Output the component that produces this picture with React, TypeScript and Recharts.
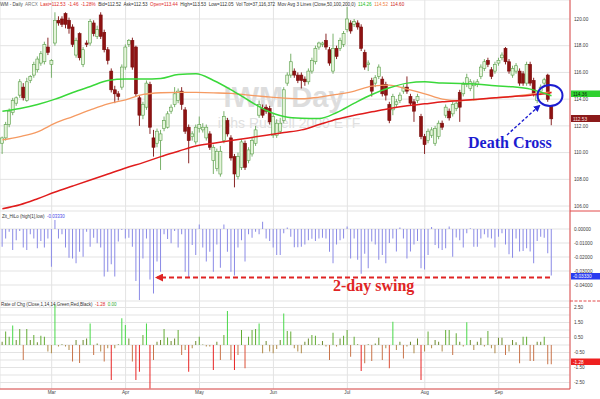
import React from "react";
import { ComposedChart, Bar, Line, XAxis, YAxis, CartesianGrid, Cell } from "recharts";

const SANS = "'Liberation Sans', Arial, sans-serif";
const SERIF = "'Liberation Serif', 'Times New Roman', serif";

// IWM daily, Feb 10 - Sep 23 2014 (one entry per trading day)
const PRICE_OPEN = [
  110.7, 111.1, 112.1, 113.0, 113.7, 114.3, 114.9, 113.9, 115.4, 115.8,
  116.2, 116.7, 116.8, 117.9, 116.6, 118.2, 119.9, 120.0, 120.4, 119.9,
  119.4, 117.3, 118.9, 116.6, 118.2, 118.2, 119.7, 118.7, 120.3, 119.0,
  117.7, 116.1, 114.7, 114.4, 114.9, 116.4, 118.1, 118.4, 117.9, 114.1,
  112.8, 113.4, 115.1, 111.1, 110.7, 110.9, 111.8, 111.9, 113.1, 113.6,
  113.9, 114.6, 113.2, 111.9, 111.2, 110.8, 111.8, 111.7, 111.1, 111.4,
  109.4, 108.8, 108.4, 110.9, 112.4, 111.1, 109.7, 108.2, 108.9, 110.7,
  109.4, 109.9, 110.7, 112.8, 113.3, 113.4, 113.3, 111.3, 111.3, 111.6,
  112.4, 115.2, 115.8, 116.1, 115.8, 115.8, 115.5, 115.3, 116.1, 116.8,
  117.9, 118.1, 118.4, 117.7, 116.1, 117.8, 117.8, 118.1, 119.2, 119.7,
  119.6, 119.7, 119.4, 117.5, 116.6, 115.4, 115.2, 115.7, 115.5, 115.1,
  113.6, 113.2, 113.6, 113.9, 114.6, 114.9, 114.2, 113.8, 113.9, 112.7,
  111.2, 110.9, 111.3, 110.7, 111.2, 112.2, 112.8, 113.1, 112.9, 113.3,
  114.5, 114.4, 115.1, 114.8, 115.0, 115.1, 115.7, 116.3, 116.9, 116.2,
  116.1, 116.7, 117.1, 117.8, 116.8, 115.8, 116.1, 116.1, 115.9, 115.2,
  116.6, 115.4, 113.9, 114.6, 115.2, 115.8, 113.44,
];
const PRICE_HIGH = [
  111.2, 112.3, 113.3, 114.1, 114.2, 115.5, 115.2, 115.6, 115.8, 116.8,
  117.2, 117.6, 118.3, 118.6, 117.0, 120.5, 120.2, 120.2, 120.5, 120.1,
  119.6, 118.6, 119.0, 117.9, 118.4, 120.0, 119.9, 119.5, 120.5, 119.2,
  117.9, 116.3, 115.0, 114.6, 116.6, 118.1, 118.5, 118.6, 118.0, 114.3,
  113.8, 115.4, 115.3, 111.7, 111.8, 111.7, 112.7, 113.1, 113.6, 114.9,
  114.8, 114.9, 113.4, 112.1, 111.6, 112.1, 112.7, 112.2, 112.1, 111.6,
  110.6, 110.3, 110.5, 113.1, 112.6, 111.3, 109.9, 110.0, 111.0, 110.9,
  110.4, 111.1, 112.0, 113.9, 113.6, 113.6, 113.5, 112.9, 112.5, 112.6,
  114.9, 116.0, 117.4, 116.3, 116.0, 116.0, 115.7, 116.3, 117.1, 118.0,
  118.3, 118.3, 118.9, 117.9, 118.9, 118.0, 118.6, 119.1, 120.9, 119.9,
  120.0, 119.9, 119.6, 117.7, 116.9, 115.6, 115.8, 116.6, 115.7, 115.3,
  113.8, 114.4, 114.0, 114.5, 115.1, 115.7, 114.4, 114.0, 114.4, 112.9,
  111.4, 111.8, 111.9, 112.0, 112.4, 112.4, 113.6, 113.3, 113.8, 113.9,
  114.7, 115.3, 115.9, 115.5, 115.4, 115.5, 116.6, 117.0, 117.1, 116.4,
  116.8, 117.1, 117.5, 117.9, 117.0, 116.5, 116.7, 116.3, 116.1, 116.8,
  116.8, 115.6, 114.6, 115.1, 115.6, 115.9, 113.53,
];
const PRICE_LOW = [
  109.9, 110.9, 111.9, 112.8, 113.5, 114.1, 113.9, 113.8, 115.2, 115.6,
  116.0, 116.5, 116.6, 117.3, 115.6, 118.0, 119.5, 119.4, 119.3, 118.9,
  117.9, 117.1, 116.9, 116.4, 117.9, 118.0, 118.7, 118.5, 118.5, 117.5,
  116.6, 114.5, 113.7, 113.9, 114.7, 116.2, 117.9, 116.2, 114.2, 112.0,
  112.5, 113.2, 111.4, 109.7, 110.4, 108.7, 111.6, 111.8, 112.9, 113.4,
  113.7, 113.2, 111.4, 109.2, 110.9, 110.6, 111.5, 111.5, 110.9, 110.2,
  108.4, 108.6, 108.2, 110.7, 111.2, 109.4, 107.4, 108.0, 108.7, 108.7,
  109.2, 109.7, 110.5, 112.6, 112.6, 112.9, 112.1, 111.1, 111.1, 111.4,
  112.2, 115.0, 115.6, 115.6, 115.2, 114.8, 115.0, 115.1, 115.9, 116.6,
  117.7, 117.9, 117.7, 116.5, 115.9, 117.0, 117.6, 117.9, 119.0, 118.9,
  119.4, 119.2, 117.6, 116.2, 116.1, 114.2, 114.9, 115.5, 114.2, 113.9,
  112.2, 112.8, 113.4, 113.7, 114.4, 114.4, 113.5, 112.3, 113.7, 111.0,
  109.9, 110.7, 111.1, 110.5, 111.0, 111.7, 112.6, 112.4, 112.7, 113.1,
  112.3, 114.2, 114.9, 114.6, 113.9, 114.9, 115.5, 116.1, 116.4, 115.5,
  115.9, 116.5, 116.9, 116.6, 115.9, 115.6, 115.9, 115.0, 115.0, 115.0,
  115.0, 114.2, 113.7, 114.3, 115.0, 113.8, 112.05,
];
const PRICE_CLOSE = [
  111.1, 112.1, 113.1, 113.9, 114.1, 115.3, 114.1, 115.3, 115.7, 116.6,
  117.0, 117.4, 118.1, 117.5, 116.9, 119.9, 119.7, 119.6, 119.6, 119.3,
  118.1, 118.4, 117.1, 117.7, 118.1, 119.8, 118.9, 119.2, 118.7, 117.7,
  116.9, 114.7, 114.4, 114.2, 116.4, 117.9, 118.4, 116.4, 114.4, 112.8,
  113.6, 115.2, 111.9, 110.4, 111.6, 111.4, 112.4, 112.9, 113.4, 114.4,
  114.6, 113.6, 111.6, 110.9, 111.4, 111.9, 112.1, 111.9, 111.9, 110.4,
  110.4, 110.1, 110.1, 112.7, 111.4, 109.6, 108.4, 109.7, 110.8, 108.9,
  110.2, 110.9, 111.7, 113.6, 112.8, 113.1, 112.3, 112.7, 112.2, 112.2,
  114.7, 115.8, 116.8, 115.8, 115.4, 115.4, 115.3, 116.1, 116.9, 117.8,
  118.2, 118.2, 117.9, 116.7, 117.8, 117.2, 118.4, 118.9, 120.0, 119.1,
  119.8, 119.4, 117.8, 116.4, 116.7, 114.6, 115.6, 116.4, 114.4, 114.3,
  112.4, 114.2, 113.8, 114.3, 114.9, 114.6, 113.7, 113.1, 114.2, 111.2,
  110.6, 111.6, 111.7, 111.8, 112.2, 111.9, 113.4, 112.6, 113.6, 113.7,
  113.4, 115.1, 115.6, 115.3, 115.2, 115.3, 116.4, 116.8, 116.6, 115.7,
  116.6, 116.9, 117.3, 116.8, 116.1, 116.3, 116.5, 115.2, 115.2, 116.6,
  115.2, 114.4, 114.4, 114.9, 115.45, 113.99, 112.53,
];

// moving averages read every 5 sessions: [session, value]
const MA50_PTS: [number, number][] = [
  [0, 113.1], [5, 113.3], [10, 113.6], [15, 114.0], [20, 114.5], [25, 114.95], [30, 115.4],
  [35, 115.5], [40, 115.5], [45, 115.55], [50, 115.85], [55, 115.9], [60, 115.4], [65, 114.7],
  [70, 113.9], [75, 113.15], [80, 112.7], [85, 112.57], [90, 112.55], [95, 113.0], [100, 113.7],
  [105, 114.35], [110, 114.85], [115, 115.2], [120, 115.3], [125, 115.2], [130, 115.18],
  [135, 115.12], [140, 115.0], [145, 114.92], [150, 114.75], [155, 114.35], [156, 114.26],
];
const MA100_PTS: [number, number][] = [
  [0, 110.95], [5, 111.2], [10, 111.55], [15, 112.2], [20, 112.7], [25, 113.2], [30, 113.65],
  [35, 113.95], [40, 114.35], [45, 114.48], [50, 114.51], [55, 114.5], [60, 114.47], [65, 114.43],
  [70, 114.3], [75, 114.18], [80, 114.08], [85, 114.03], [90, 114.15], [95, 114.35], [100, 114.6],
  [105, 114.97], [110, 115.05], [115, 114.75], [120, 114.4], [125, 114.0], [130, 113.88],
  [135, 113.97], [140, 114.1], [145, 114.2], [150, 114.37], [155, 114.5], [156, 114.52],
];
const MA200_PTS: [number, number][] = [
  [0, 105.8], [5, 106.1], [10, 106.55], [15, 107.05], [20, 107.5], [25, 107.95], [30, 108.4],
  [35, 108.85], [40, 109.25], [45, 109.7], [50, 110.1], [55, 110.5], [60, 110.7], [65, 110.9],
  [70, 111.1], [75, 111.3], [80, 111.5], [85, 111.7], [90, 112.1], [95, 112.5], [100, 112.8],
  [105, 113.05], [110, 113.3], [115, 113.5], [120, 113.65], [125, 113.8], [130, 113.9],
  [135, 114.0], [140, 114.1], [145, 114.2], [150, 114.3], [155, 114.45], [156, 114.5],
];

const ZIT_HILO = [
  -0.0126, -0.0067, -0.002, -0.015, -0.008, -0.0014, -0.0133, -0.015, -0.0038, -0.0067,
  -0.0138, -0.0086, -0.0133, -0.0067, -0.0269, 0.0064, -0.0067, -0.0038, -0.0133, -0.0205,
  -0.021, -0.0245, -0.0162, -0.0198, -0.002, -0.0126, -0.0062, -0.0102, -0.0133, -0.034,
  -0.0305, -0.0252, -0.034, -0.009, -0.0007, -0.0067, -0.0062, -0.0126, -0.0371, -0.0507,
  -0.021, -0.0067, -0.036, -0.046, -0.0233, -0.0305, -0.0038, -0.0071, -0.0102, -0.0014,
  -0.0133, -0.0038, -0.0305, -0.0348, -0.0114, -0.0186, 0.0033, -0.0133, -0.0233, -0.0162,
  -0.0305, -0.011, -0.0276, 0.0033, -0.0162, -0.0305, -0.0333, -0.0133, -0.008, -0.0233,
  -0.0038, -0.0062, -0.002, -0.0038, 0.0052, -0.0067, -0.0086, -0.0133, -0.0186, -0.0186,
  -0.003, 0.001, -0.0055, -0.013, -0.013, -0.0126, -0.011, -0.008, -0.007, -0.0086,
  -0.0067, -0.0062, -0.0067, -0.0162, -0.0245, -0.011, -0.008, -0.0067, 0.0017, -0.021,
  -0.0067, -0.022, -0.032, -0.0176, -0.028, -0.009, -0.011, -0.022, -0.0186, -0.0245,
  -0.01, -0.0067, -0.016, 0.001, -0.0067, -0.021, -0.016, -0.011, -0.0086, -0.028,
  -0.029, -0.0186, 0.0014, -0.0114, -0.0138, -0.015, -0.0138, 0.0017, -0.0198, -0.006,
  -0.008, -0.0133, -0.003, 0.0005, -0.0126, -0.0126, -0.0067, -0.0038, -0.006, -0.0067,
  -0.0133, -0.0055, -0.003, -0.011, -0.018, -0.0205, -0.0067, -0.016, -0.0157, -0.0138,
  -0.016, -0.0245, -0.0086, -0.0055, -0.0062, -0.0174, -0.0333,
];

const RATE_OF_CHG = [
  0.22, 0.9, 0.55, 1.3, 0.33, 1.07, -1.0, 1.07, 0.33, 0.67,
  0.18, 0.62, 0.55, -0.44, -0.55, 2.7, -0.1, 0.05, -0.1, -0.33,
  -1.1, 0.33, -1.2, 0.33, 0.44, 1.44, -0.67, 0.1, -0.44, -1.1,
  -0.22, -2.33, -0.22, 0.05, 1.78, 1.33, 0.44, -1.1, -2.33, -1.78,
  0.67, 1.44, -2.9, -1.0, 0.22, 0.33, 1.07, 0.5, 0.27, 0.44,
  1.0, -0.67, -0.33, -1.78, -0.22, 0.27, 0.55, 0.03, -0.1, -0.1,
  -1.67, 0.22, -1.0, 0.67, 2.27, -1.0, -1.67, -0.67, 1.0, -1.55,
  0.55, 1.0, 1.07, 1.44, -0.55, 0.27, -0.44, -0.55, -0.27, 0.33,
  2.1, 0.93, 0.9, -0.22, -0.44, -0.55, 0.22, 0.44, 0.67, 0.62,
  0.05, 0.27, -0.1, -1.0, 0.82, -0.1, 0.44, 0.62, 1.0, -0.78,
  0.55, 0.05, -1.73, -1.22, 0.05, -1.07, 0.1, 0.49, -1.0, -0.22,
  -1.55, 1.55, -0.33, 0.22, -0.9, -0.1, 0.22, -0.55, 0.44, -2.33,
  -0.44, 0.9, -0.22, 0.33, 0.22, -0.44, 1.0, 1.0, -0.67, 0.78,
  0.22, -0.1, 1.51, 0.33, -0.33, 0.22, 0.49, -0.1, 0.93, -0.22,
  -0.55, 0.49, 0.49, -0.67, -0.44, 0.33, 0.18, -1.22, 0.55, 0.55,
  -1.07, -1.07, 0.22, 0.22, 0.55, -1.29, -1.28,
];

const MONTH_STARTS = [14, 35, 56, 77, 98, 120, 141];
const MONTH_LABELS = ["Mar", "Apr", "May", "Jun", "Jul", "Aug", "Sep"];
const PRICE_TICKS = [106, 108, 110, 112, 114, 116, 118, 120];
const ZIT_TICKS = [0, -0.01, -0.02, -0.03, -0.04];
const ROC_TICKS = [2.5, 2, 1.5, 1, 0.5, 0, -0.5, -1, -1.5, -2, -2.5];

const m50 = new Map(MA50_PTS);
const m100 = new Map(MA100_PTS);
const m200 = new Map(MA200_PTS);

const data = PRICE_OPEN.map((open, j) => ({
  j,
  open,
  high: PRICE_HIGH[j],
  low: PRICE_LOW[j],
  close: PRICE_CLOSE[j],
  hl: [PRICE_LOW[j], PRICE_HIGH[j]],
  ma50: m50.get(j) ?? null,
  ma100: m100.get(j) ?? null,
  ma200: m200.get(j) ?? null,
  zit: ZIT_HILO[j],
  roc: RATE_OF_CHG[j],
}));

const X_DOMAIN: [number, number] = [-0.68, 161.25];

function Candle(props: any) {
  const { x, y, width, height, payload } = props;
  if (!payload || !height) return null;
  const { open, close, high, low } = payload;
  const ppu = height / (high - low);
  const cx = x + width / 2;
  const yO = y + (high - open) * ppu;
  const yC = y + (high - close) * ppu;
  const up = close >= open;
  const top = Math.min(yO, yC);
  const h = Math.max(Math.abs(yO - yC), 0.8);
  return (
    <g>
      <line x1={cx} x2={cx} y1={y} y2={y + height} stroke={up ? "#6aa85a" : "#7a0c0c"} strokeWidth={0.9} />
      <rect
        x={x}
        y={top}
        width={width}
        height={h}
        fill={up ? "#e4f4da" : "#8e1212"}
        stroke={up ? "#5a9e4a" : "#7a0c0c"}
        strokeWidth={0.6}
      />
    </g>
  );
}

function rocColor(v: number) {
  if (v >= 1.2) return "#48d848";
  if (v >= 0.5) return "#62ac34";
  if (v >= 0) return "#6c8c30";
  if (v > -0.6) return "#b08a4a";
  if (v > -1.3) return "#c8744a";
  if (v > -1.6) return "#dc5038";
  return "#e82424";
}

export default function App() {
  const margin = { top: 0, right: 0, bottom: 0, left: 0 };
  const tick = { fontSize: 4.7, fill: "#3a3a3a", fontFamily: SANS };
  const rightAxis = {
    orientation: "right" as const,
    width: 30,
    tickLine: false,
    tickSize: 0,
    tickMargin: 4,
    axisLine: { stroke: "#e24a4a" },
    tick,
    interval: 0 as const,
    allowDataOverflow: true,
  };

  return (
    <div style={{ position: "absolute", left: 0, top: 0, width: 600, height: 399, background: "#fff", overflow: "hidden" }}>
      {/* watermark */}
      <svg width={600} height={399} style={{ position: "absolute", left: 0, top: 0 }}>
        <text x={284} y={107} textAnchor="middle" fontSize={29} fontWeight="bold" fill="#dddddd" fontFamily={SANS}>
          IWM Day
        </text>
        <text x={289} y={128} textAnchor="middle" fontSize={14} fill="#e0e0e0" fontFamily={SANS}>
          iShs Russell 2000 ETF
        </text>
      </svg>

      {/* price panel */}
      <div style={{ position: "absolute", left: 0, top: 0 }}>
        <ComposedChart width={600} height={211} data={data} margin={margin}>
          <CartesianGrid stroke="#e3e3e3" />
          <XAxis type="number" dataKey="j" domain={X_DOMAIN} ticks={MONTH_STARTS} hide allowDataOverflow />
          <YAxis {...rightAxis} domain={[105.63, 121.42]} ticks={PRICE_TICKS} tickFormatter={(v: number) => v.toFixed(2)} />
          <Bar dataKey="hl" barSize={3} isAnimationActive={false} shape={(p: any) => <Candle {...p} />} />
          <Line dataKey="ma100" type="monotone" stroke="#f59a62" strokeWidth={1.3} dot={false} activeDot={false} connectNulls isAnimationActive={false} />
          <Line dataKey="ma200" type="monotone" stroke="#e01c1c" strokeWidth={1.5} dot={false} activeDot={false} connectNulls isAnimationActive={false} />
          <Line dataKey="ma50" type="monotone" stroke="#3ad83a" strokeWidth={1.5} dot={false} activeDot={false} connectNulls isAnimationActive={false} />
        </ComposedChart>
      </div>

      {/* Zit_HiLo panel */}
      <div style={{ position: "absolute", left: 0, top: 211 }}>
        <ComposedChart width={600} height={90} data={data} margin={margin}>
          <CartesianGrid stroke="#e3e3e3" />
          <XAxis type="number" dataKey="j" domain={X_DOMAIN} ticks={MONTH_STARTS} hide allowDataOverflow />
          <YAxis
            {...rightAxis}
            domain={[-0.05143, 0.01286]}
            ticks={ZIT_TICKS}
            tickFormatter={(v: number) => (v === 0 ? "0.00000" : v.toFixed(5))}
          />
          <Bar dataKey="zit" barSize={1} fill="#8a8ae6" isAnimationActive={false} />
        </ComposedChart>
      </div>

      {/* Rate of change panel */}
      <div style={{ position: "absolute", left: 0, top: 301 }}>
        <ComposedChart width={600} height={98} data={data} margin={margin}>
          <CartesianGrid stroke="#e3e3e3" />
          <XAxis
            type="number"
            dataKey="j"
            domain={X_DOMAIN}
            allowDataOverflow
            ticks={MONTH_STARTS}
            interval={0}
            tickFormatter={(v: number) => MONTH_LABELS[MONTH_STARTS.indexOf(v)] ?? ""}
            height={10}
            tickSize={0}
            tickMargin={2}
            tickLine={false}
            axisLine={{ stroke: "#e24a4a" }}
            tick={{ fontSize: 4.7, fill: "#444", fontFamily: SANS }}
          />
          <YAxis
            {...rightAxis}
            domain={[-2.933, 2.933]}
            ticks={ROC_TICKS}
            tickFormatter={(v: number) => (Math.round(Math.abs(v) * 2) % 2 === 1 ? v.toFixed(2) : "")}
          />
          <Bar dataKey="roc" barSize={1} isAnimationActive={false}>
            {data.map((d) => (
              <Cell key={d.j} fill={rocColor(d.roc)} />
            ))}
          </Bar>
        </ComposedChart>
      </div>

      {/* headers, value boxes and annotations */}
      <svg width={600} height={399} style={{ position: "absolute", left: 0, top: 0, pointerEvents: "none" }}>
        <defs>
          <marker id="blueHead" markerWidth="7" markerHeight="7" refX="5" refY="3.5" orient="auto" markerUnits="userSpaceOnUse">
            <path d="M0,0 L7,3.5 L0,7 z" fill="#1c1cd0" />
          </marker>
          <marker id="redHead" markerWidth="8" markerHeight="8" refX="6" refY="4" orient="auto" markerUnits="userSpaceOnUse">
            <path d="M0,0 L8,4 L0,8 z" fill="#e02424" />
          </marker>
        </defs>

        <text x={-1} y={6} fontSize={4.6} fontFamily={SANS} style={{ whiteSpace: "pre" }}>
          <tspan fill="#444">{"IWM - Daily  "}</tspan>
          <tspan fill="#777">{"ARCX  "}</tspan>
          <tspan fill="#e02828">{"Last=112.53  -1.46  -1.28%  "}</tspan>
          <tspan fill="#333">{"Bid=112.52  Ask=112.53  "}</tspan>
          <tspan fill="#e02828">{"Open=113.44  "}</tspan>
          <tspan fill="#333">{"High=113.53  Low=112.05  Vol Tot=37,116,372  Mov Avg 3 Lines (Close,50,100,200,0)  "}</tspan>
          <tspan fill="#22bb22">{"114.26  "}</tspan>
          <tspan fill="#f08040">{"114.52  "}</tspan>
          <tspan fill="#cc2020">{"114.60"}</tspan>
        </text>

        <text x={2} y={217.5} fontSize={4.5} fontFamily={SANS} style={{ whiteSpace: "pre" }}>
          <tspan fill="#333">{"Zit_HiLo (high[1],low)  "}</tspan>
          <tspan fill="#4a4ae8">{"-0.03330"}</tspan>
        </text>
        <text x={1} y={305.5} fontSize={4.5} fontFamily={SANS} style={{ whiteSpace: "pre" }}>
          <tspan fill="#333">{"Rate of Chg (Close,1,14,14,Green,Red,Black)  "}</tspan>
          <tspan fill="#e02828">{"-1.28  "}</tspan>
          <tspan fill="#2eaa2e">{"0.00"}</tspan>
        </text>

        {/* panel separators on the scale */}
        <line x1={570} x2={600} y1={211} y2={211} stroke="#e24a4a" strokeWidth={1} />
        <line x1={570} x2={600} y1={301} y2={301} stroke="#e24a4a" strokeWidth={1} strokeDasharray="3,1.5" />

        {/* value boxes (they sit over part of the scale, as in the source) */}
        <rect x={571} y={90.5} width={29} height={6.5} fill="#2fd12f" />
        <text x={573} y={95.6} fontSize={4.7} fill="#0c2a0c" fontFamily={SANS}>114.36</text>
        <rect x={571} y={115} width={29} height={7} fill="#8b1a1a" />
        <text x={573} y={120.5} fontSize={4.7} fill="#ffe0e0" fontFamily={SANS}>112.53</text>
        <rect x={571} y={273} width={29} height={6.5} fill="#2a3cf0" />
        <text x={573} y={278.2} fontSize={4.7} fill="#ffffff" fontFamily={SANS}>-0.03330</text>
        <rect x={571} y={358.5} width={29} height={6.5} fill="#ee2020" />
        <text x={573} y={363.7} fontSize={4.7} fill="#ffffff" fontFamily={SANS}>-1.28</text>

        {/* death cross */}
        <ellipse cx={550} cy={95.5} rx={12.5} ry={10.5} fill="none" stroke="#1c1cd0" strokeWidth={2} />
        <line x1={507} y1={135} x2={539} y2={106} stroke="#1c1cd0" strokeWidth={1.4} strokeDasharray="3,2" markerEnd="url(#blueHead)" />
        <text x={468} y={148} fontSize={16} fontWeight="bold" fill="#1c1cd0" fontFamily={SERIF}>
          Death Cross
        </text>

        {/* 2-day swing */}
        <line x1={550} y1={277.5} x2={157} y2={277.5} stroke="#e02424" strokeWidth={1.8} strokeDasharray="5,3" markerEnd="url(#redHead)" />
        <text x={333} y={291} fontSize={16} fontWeight="bold" fill="#e02424" fontFamily={SERIF}>
          2-day swing
        </text>
      </svg>
    </div>
  );
}
